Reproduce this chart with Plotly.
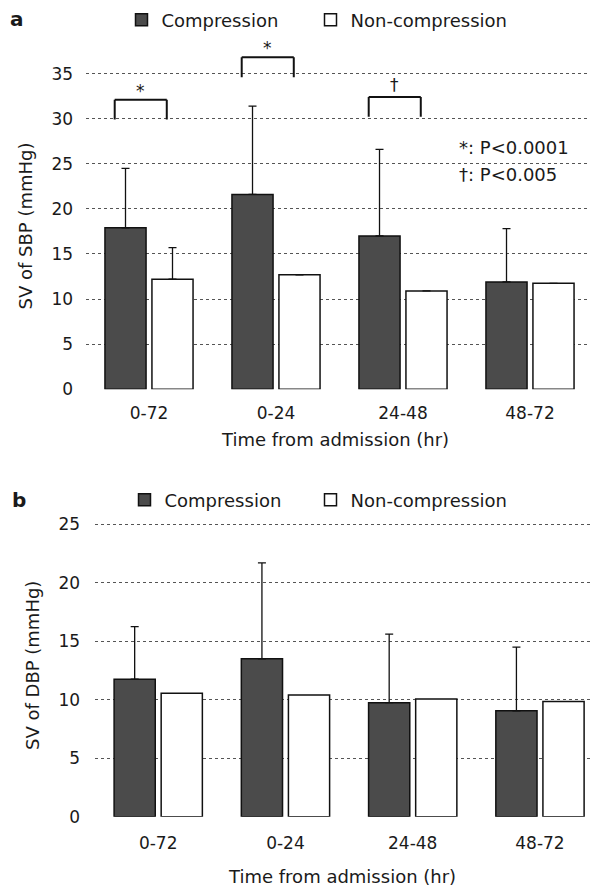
import plotly.graph_objects as go

# ---------------- data ----------------
categories = ["0-72", "0-24", "24-48", "48-72"]

sbp_compression = [17.9, 21.6, 17.0, 11.9]
sbp_compression_sd = [6.6, 9.8, 9.6, 5.9]
sbp_noncompression = [12.2, 12.7, 10.9, 11.75]
sbp_noncompression_sd = [3.5, None, None, None]

dbp_compression = [11.75, 13.5, 9.75, 9.05]
dbp_compression_sd = [4.5, 8.2, 5.85, 5.45]
dbp_noncompression = [10.55, 10.4, 10.05, 9.85]

sig_categories = ["0-72", "0-24", "24-48"]
sig_marks = ["*", "*", "\u2020"]
sig_heights = [32.1, 36.8, 32.4]
p_labels = ["*: P<0.0001", "\u2020: P<0.005"]

sbp_ticks = [0, 5, 10, 15, 20, 25, 30, 35]
dbp_ticks = [0, 5, 10, 15, 20, 25]

# ---------------- styling ----------------
# the page body has an 8px margin, so the figure is 8px smaller and all
# positions below are given in page pixels and converted.
OFF = 8
W, H = 598 - OFF, 890 - OFF
FONT = "DejaVu Sans"
TXT = "#1a1a1a"
DARK = "#4b4b4b"
GRID = "#555555"


def px_x(p):
    return (p - OFF) / W


def px_y(p):
    return 1 - (p - OFF) / H


xpos = list(range(len(categories)))

fig = go.Figure()

bar_line = dict(color="#111111", width=1.5)
err_style = dict(type="data", symmetric=False, color="#111111", thickness=1.3, width=4)

# panel a
fig.add_trace(go.Bar(
    x=xpos, y=sbp_compression, name="Compression",
    marker=dict(color=DARK, line=bar_line),
    error_y=dict(array=sbp_compression_sd, arrayminus=[0] * len(xpos), **err_style),
    xaxis="x", yaxis="y", legend="legend",
))
fig.add_trace(go.Bar(
    x=xpos, y=sbp_noncompression, name="Non-compression",
    marker=dict(color="white", line=bar_line),
    error_y=dict(array=sbp_noncompression_sd,
                 arrayminus=[0 if v is not None else None for v in sbp_noncompression_sd],
                 **err_style),
    xaxis="x", yaxis="y", legend="legend2",
))
# panel b
fig.add_trace(go.Bar(
    x=xpos, y=dbp_compression, name="Compression",
    marker=dict(color=DARK, line=bar_line),
    error_y=dict(array=dbp_compression_sd, arrayminus=[0] * len(xpos), **err_style),
    xaxis="x2", yaxis="y2", legend="legend3",
))
fig.add_trace(go.Bar(
    x=xpos, y=dbp_noncompression, name="Non-compression",
    marker=dict(color="white", line=bar_line),
    xaxis="x2", yaxis="y2", legend="legend4",
))

tickfont = dict(family=FONT, size=17, color=TXT)
common_x = dict(tickvals=xpos, ticktext=categories, showgrid=False, zeroline=False,
                showline=False, ticks="outside", tickcolor="rgba(0,0,0,0)",
                tickfont=tickfont, fixedrange=True)
common_y = dict(showgrid=True, gridcolor=GRID, griddash="dot", gridwidth=1,
                zeroline=False, showline=False, ticks="outside",
                tickcolor="rgba(0,0,0,0)", tickfont=tickfont, fixedrange=True)

shapes = []
annotations = []
for cat, mark, h in zip(sig_categories, sig_marks, sig_heights):
    i = categories.index(cat)
    x0, x1 = i - 0.27, i + 0.14
    leg = 2.2
    line = dict(color="#111111", width=2)
    shapes.append(dict(type="line", xref="x", yref="y", x0=x0, x1=x1, y0=h, y1=h, line=line))
    shapes.append(dict(type="line", xref="x", yref="y", x0=x0, x1=x0, y0=h - leg, y1=h, line=line))
    shapes.append(dict(type="line", xref="x", yref="y", x0=x1, x1=x1, y0=h - leg, y1=h, line=line))
    annotations.append(dict(x=(x0 + x1) / 2, y=h, xref="x", yref="y", text=mark,
                            showarrow=False, yanchor="bottom",
                            yshift=-3 if mark == "*" else 0,
                            font=dict(family=FONT, size=17, color=TXT)))

for k, lbl in enumerate(p_labels):
    annotations.append(dict(x=px_x(457), y=px_y(147 + 27 * k), xref="paper", yref="paper",
                            text=lbl, showarrow=False, xanchor="left", yanchor="middle",
                            font=dict(family=FONT, size=18, color=TXT)))

annotations += [
    dict(x=px_x(8), y=px_y(19), xref="paper", yref="paper", text="<b>a</b>", showarrow=False,
         xanchor="left", yanchor="middle", font=dict(family=FONT, size=20, color=TXT)),
    dict(x=px_x(10), y=px_y(500), xref="paper", yref="paper", text="<b>b</b>", showarrow=False,
         xanchor="left", yanchor="middle", font=dict(family=FONT, size=20, color=TXT)),
    dict(x=px_x(25), y=px_y(226.5), xref="paper", yref="paper", text="SV of SBP (mmHg)",
         textangle=-90, showarrow=False, xanchor="center", yanchor="middle",
         font=dict(family=FONT, size=18, color=TXT)),
    dict(x=px_x(32), y=px_y(666), xref="paper", yref="paper", text="SV of DBP (mmHg)",
         textangle=-90, showarrow=False, xanchor="center", yanchor="middle",
         font=dict(family=FONT, size=18, color=TXT)),
    dict(x=px_x(335), y=px_y(439), xref="paper", yref="paper", text="Time from admission (hr)",
         showarrow=False, xanchor="center", yanchor="middle",
         font=dict(family=FONT, size=18, color=TXT)),
    dict(x=px_x(342), y=px_y(876), xref="paper", yref="paper", text="Time from admission (hr)",
         showarrow=False, xanchor="center", yanchor="middle",
         font=dict(family=FONT, size=18, color=TXT)),
]

legend_common = dict(orientation="h", xanchor="left", yanchor="middle",
                     font=dict(family=FONT, size=18, color=TXT), bgcolor="rgba(0,0,0,0)",
                     itemclick=False, itemdoubleclick=False)

fig.update_layout(
    width=W, height=H, template="none",
    margin=dict(l=0, r=0, t=0, b=0, autoexpand=False),
    paper_bgcolor="white", plot_bgcolor="white",
    font=dict(family=FONT, color=TXT),
    barmode="group", bargap=0.26, bargroupgap=0.125,
    showlegend=True,
    xaxis=dict(domain=[px_x(85.5), px_x(593.5)], range=[-0.5, 3.5], anchor="y",
               ticklen=8, **common_x),
    yaxis=dict(domain=[px_y(389.3), px_y(51)], range=[0, 37.5], tickvals=sbp_ticks,
               anchor="x", ticklen=8, **common_y),
    xaxis2=dict(domain=[px_x(94.6), 1.0], range=[-0.5, 3.456], anchor="y2",
                ticklen=11, **common_x),
    yaxis2=dict(domain=[px_y(816.7), px_y(512.5)], range=[0, 26], tickvals=dbp_ticks,
                anchor="x2", ticklen=10, **common_y),
    legend=dict(x=px_x(121.5), y=px_y(20), **legend_common),
    legend2=dict(x=px_x(310.5), y=px_y(20), **legend_common),
    legend3=dict(x=px_x(124.5), y=px_y(500), **legend_common),
    legend4=dict(x=px_x(310.5), y=px_y(500), **legend_common),
    shapes=shapes,
    annotations=annotations,
)

fig.write_html("out.html", config={"displayModeBar": False})
